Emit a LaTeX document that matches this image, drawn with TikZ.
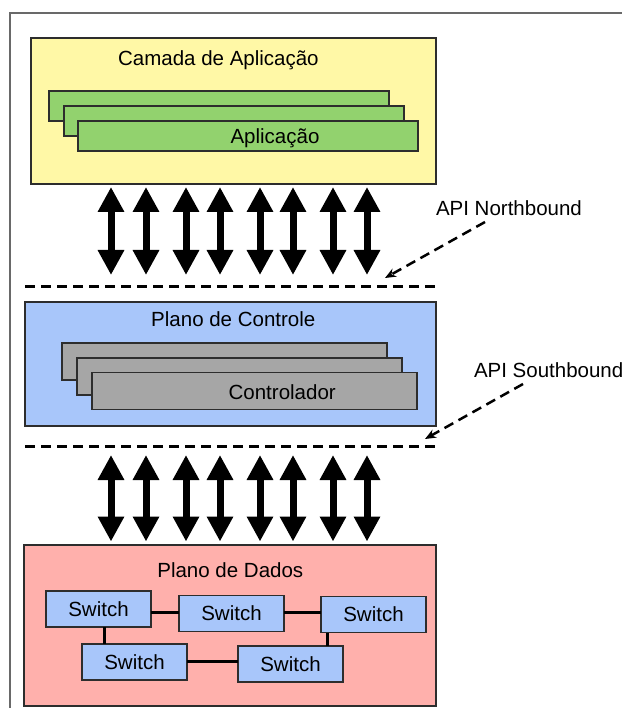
\documentclass[tikz,border=0pt]{standalone}
\usepackage{fontspec}
\setmainfont{Liberation Sans}
\usetikzlibrary{arrows.meta}
\definecolor{appyellow}{RGB}{255,248,166}
\definecolor{appgreen}{RGB}{146,210,110}
\definecolor{ctlblue}{RGB}{168,198,250}
\definecolor{ctlgray}{RGB}{166,166,166}
\definecolor{datared}{RGB}{255,176,172}
\definecolor{edgecol}{RGB}{45,45,45}
\definecolor{framecol}{RGB}{105,105,105}
\begin{document}
\begin{tikzpicture}[x=1pt,y=-1pt,
  box/.style={draw=edgecol,line width=1.3pt,inner sep=0pt,outer sep=0pt},
  lbl/.style={font=\fontsize{20.5}{24}\selectfont,inner sep=0pt,outer sep=0pt},
  swbox/.style={box,fill=ctlblue,minimum width=105pt,minimum height=36pt,font=\fontsize{20.5}{24}\selectfont},
  bigarrow/.style={line width=7pt,{Triangle[length=25pt,width=25pt]}-{Triangle[length=25pt,width=25pt]}},
  sepline/.style={line width=2.6pt,dash pattern=on 10pt off 6pt},
  apiarrow/.style={line width=2.5pt,dash pattern=on 10pt off 6pt,-{Stealth[length=11pt,width=9pt]}},
  link/.style={line width=3pt,draw=black}
]
\useasboundingbox (0,0) rectangle (621,708);
% outer frame
\draw[framecol,line width=1.8pt] (10,712) -- (10,13) -- (625,13);

% application layer
\node[box,fill=appyellow,minimum width=405pt,minimum height=146pt] (app) at (233.5,111) {};
\node[lbl,anchor=base] (apptitle) at (218.4,65.5) {Camada de Aplicação};
\node[box,fill=appgreen,minimum width=340pt,minimum height=30pt] (g1) at (219,106) {};
\node[box,fill=appgreen,minimum width=340pt,minimum height=30pt] (g2) at (234,121) {};
\node[box,fill=appgreen,minimum width=340pt,minimum height=30pt] (g3) at (248,136) {};
\node[lbl,anchor=base] (apptext) at (275,143.3) {Aplicação};

% northbound arrows
\foreach \x in {111,146,186,220,260,293,333,367}{
  \draw[bigarrow] (\x,187) -- (\x,275);
}
\coordinate (sep1a) at (25,286.5);
\coordinate (sep1b) at (435,286.5);
\draw[sepline] (sep1a) -- (sep1b);
\node[lbl,anchor=base west] (nbl) at (436,215.3) {API Northbound};
\coordinate (nbstart) at (485,222);
\coordinate (nbend) at (385,278);
\draw[apiarrow] (nbstart) -- (nbend);

% control plane
\node[box,fill=ctlblue,minimum width=411pt,minimum height=124pt] (ctl) at (230.5,364) {};
\node[lbl,anchor=base] (ctltitle) at (233.3,326.6) {Plano de Controle};
\node[box,fill=ctlgray,minimum width=325pt,minimum height=37pt] (c1) at (224.5,361.5) {};
\node[box,fill=ctlgray,minimum width=325pt,minimum height=37pt] (c2) at (239.5,376.5) {};
\node[box,fill=ctlgray,minimum width=325pt,minimum height=37pt] (c3) at (254.5,391) {};
\node[lbl,anchor=base] (ctltext) at (282.2,399) {Controlador};

\coordinate (sep2a) at (25,446.7);
\coordinate (sep2b) at (435,446.7);
\draw[sepline] (sep2a) -- (sep2b);
\node[lbl,anchor=base west] (sbl) at (474,377.3) {API Southbound};
\coordinate (sbstart) at (523,384);
\coordinate (sbend) at (425,439);
\draw[apiarrow] (sbstart) -- (sbend);

% southbound arrows
\foreach \x in {111,146,186,220,260,293,333,367}{
  \draw[bigarrow] (\x,455) -- (\x,541.5);
}

% data plane
\node[box,fill=datared,minimum width=412pt,minimum height=161pt] (data) at (230,625.5) {};
\node[lbl,anchor=base] (datatitle) at (230.3,577.3) {Plano de Dados};
\node[swbox] (swA) at (98.5,609) {Switch};
\node[swbox] (swB) at (231.5,613.5) {Switch};
\node[swbox] (swC) at (373.5,614.5) {Switch};
\node[swbox] (swD) at (134.5,662) {Switch};
\node[swbox] (swE) at (290.5,664) {Switch};

\draw[link] (swA.east |- {(0,612)}) -- (swB.west |- {(0,612)});
\draw[link] (swB.east |- {(0,612)}) -- (swC.west |- {(0,612)});
\draw[link] (swA.south -| {(104,0)}) -- (swD.north -| {(104,0)});
\draw[link] (swC.south -| {(327.5,0)}) -- (swE.north -| {(327.5,0)});
\draw[link] (swD.east |- {(0,661)}) -- (swE.west |- {(0,661)});
\end{tikzpicture}
\end{document}
